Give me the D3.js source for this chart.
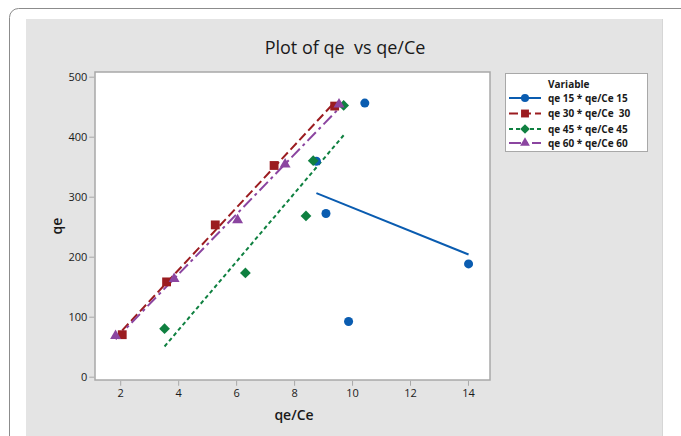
<!DOCTYPE html>
<html>
<head>
<meta charset="utf-8">
<script src="https://cdn.jsdelivr.net/npm/d3@7"></script>
<style>
  html, body { margin: 0; padding: 0; background: #ffffff; }
  svg { display: block; }
  text { font-family: "Open Sans", "Noto Sans", sans-serif; fill: #1a1a1a; }
</style>
</head>
<body>
<svg id="chart" width="681" height="436"></svg>
<script>
// ---- Data ----
const seriesNames = ["qe 15 * qe/Ce 15", "qe 30 * qe/Ce  30", "qe 45 * qe/Ce 45", "qe 60 * qe/Ce 60"];
const x15 = [8.77, 9.10, 9.88, 10.44, 14.02];
const y15 = [359, 272, 92, 456, 188];
const x30 = [2.07, 3.60, 5.28, 7.31, 9.40];
const y30 = [70, 158, 253, 352, 451];
const x45 = [3.53, 6.32, 8.41, 8.66, 9.71];
const y45 = [80, 173, 268, 360, 452];
const x60 = [1.84, 3.86, 6.05, 7.69, 9.55];
const y60 = [68, 163, 261, 354, 454];
const xTicks = [2, 4, 6, 8, 10, 12, 14];
const yTicks = [0, 100, 200, 300, 400, 500];

const colors = ["#0a5cb0", "#9b1c20", "#0f8040", "#8b45a0"];
const dashes = [null, "9,4", "4,3", "12,4,3,4"];
const symbols = [d3.symbolCircle, d3.symbolSquare, d3.symbolSquare, d3.symbolTriangle];
const symRot = [0, 0, 45, 0];
const symSizes = [64, 78, 58, 52];

const seriesX = [x15, x30, x45, x60];
const seriesY = [y15, y30, y45, y60];

const svg = d3.select("#chart");

// Outer frame and panel
svg.append("rect").attr("x", 9.5).attr("y", 8.5).attr("width", 700).attr("height", 460)
  .attr("rx", 9).attr("fill", "#ffffff").attr("stroke", "#8c8c8c").attr("stroke-width", 1);
svg.append("rect").attr("x", 26).attr("y", 19).attr("width", 637).attr("height", 430)
  .attr("fill", "#e4e4e4");
svg.append("line").attr("x1", 662.5).attr("x2", 662.5).attr("y1", 19).attr("y2", 436)
  .attr("stroke", "#d6d6d6");

// Plot area
const L = 95, R = 490, T = 72, B = 380;
const x = d3.scaleLinear().domain([1.13, 14.76]).range([L, R]);
const y = d3.scaleLinear().domain([-5.5, 507.8]).range([B, T]);

svg.append("rect").attr("x", L).attr("y", T).attr("width", R - L).attr("height", B - T)
  .attr("fill", "#ffffff").attr("stroke", "#a8a8a8").attr("stroke-width", 1.5);

// Axes
const xAxis = svg.append("g").attr("transform", `translate(0,${B + 0.75})`)
  .call(d3.axisBottom(x).tickValues(xTicks).tickSize(5).tickSizeOuter(0).tickPadding(3));
const yAxis = svg.append("g").attr("transform", `translate(${L - 0.75},0)`)
  .call(d3.axisLeft(y).tickValues(yTicks).tickSize(5).tickSizeOuter(0).tickPadding(2));
[xAxis, yAxis].forEach(g => {
  g.select(".domain").remove();
  g.selectAll(".tick line").attr("stroke", "#a8a8a8");
  g.selectAll(".tick text").attr("font-size", 11).attr("fill", "#1a1a1a")
    .style("font-family", "'Open Sans', 'Noto Sans', sans-serif");
});

// Title and axis labels
svg.append("text").attr("x", 345).attr("y", 54).attr("text-anchor", "middle")
  .attr("font-size", 18).attr("font-weight", 400).style("white-space", "pre")
  .text("Plot of qe  vs qe/Ce");
svg.append("text").attr("x", 294).attr("y", 420).attr("text-anchor", "middle")
  .attr("font-size", 14).attr("font-weight", 600).text("qe/Ce");
svg.append("text").attr("transform", "translate(62,226) rotate(-90)").attr("text-anchor", "middle")
  .attr("font-size", 14).attr("font-weight", 600).text("qe");

// Regression fits + markers
function fit(xs, ys) {
  const mx = d3.mean(xs), my = d3.mean(ys);
  let sxy = 0, sxx = 0;
  xs.forEach((v, i) => { sxy += (v - mx) * (ys[i] - my); sxx += (v - mx) * (v - mx); });
  const b = sxy / sxx, a = my - b * mx;
  return [[d3.min(xs), a + b * d3.min(xs)], [d3.max(xs), a + b * d3.max(xs)]];
}
const lineGen = d3.line().x(d => x(d[0])).y(d => y(d[1]));

// draw order: 15, 45, 30, 60
[0, 2, 1, 3].forEach(s => {
  const xs = seriesX[s], ys = seriesY[s];
  svg.append("path").attr("d", lineGen(fit(xs, ys)))
    .attr("fill", "none").attr("stroke", colors[s]).attr("stroke-width", 2)
    .attr("stroke-dasharray", dashes[s]);
});
[0, 2, 1, 3].forEach(s => {
  const xs = seriesX[s], ys = seriesY[s];
  svg.append("g").selectAll("path").data(xs.map((v, i) => [v, ys[i]])).join("path")
    .attr("transform", d => `translate(${x(d[0])},${y(d[1])}) rotate(${symRot[s]})`)
    .attr("d", d3.symbol().type(symbols[s]).size(symSizes[s]))
    .attr("fill", colors[s]);
});

// Legend
const lg = svg.append("g");
lg.append("rect").attr("x", 505.5).attr("y", 73.5).attr("width", 142).attr("height", 78)
  .attr("fill", "#ffffff").attr("stroke", "#a8a8a8");
lg.append("text").attr("x", 548).attr("y", 88).attr("font-size", 10).attr("font-weight", 700)
  .text("Variable");
const rowY = [98, 113.5, 129, 143];
seriesNames.forEach((name, s) => {
  lg.append("line").attr("x1", 509).attr("x2", 541).attr("y1", rowY[s]).attr("y2", rowY[s])
    .attr("stroke", colors[s]).attr("stroke-width", 2).attr("stroke-dasharray", dashes[s]);
  lg.append("path").attr("transform", `translate(525,${rowY[s]}) rotate(${symRot[s]})`)
    .attr("d", d3.symbol().type(symbols[s]).size(symSizes[s] * 0.8)).attr("fill", colors[s]);
  lg.append("text").attr("x", 548).attr("y", rowY[s] + 3.5).attr("font-size", 10)
    .attr("font-weight", 700).style("white-space", "pre").text(name);
});
</script>
</body>
</html>
